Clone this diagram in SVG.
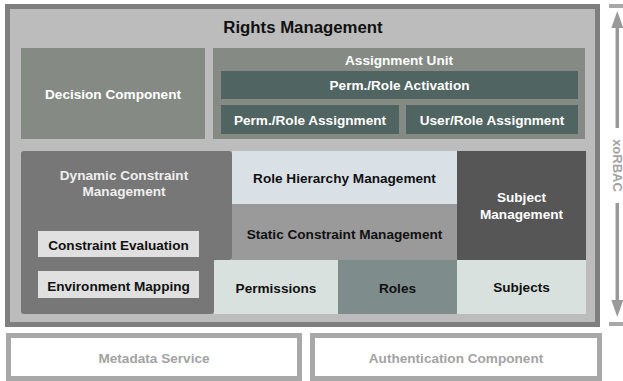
<svg xmlns="http://www.w3.org/2000/svg" width="623" height="381" viewBox="0 0 623 381">
<style>
text{font-family:"Liberation Sans",Arial,sans-serif;font-weight:bold;font-size:13.6px;text-anchor:middle}
.w{fill:#ffffff}
.b{fill:#111111}
.g{fill:#a3a3a3}
</style>
<rect x="0" y="0" width="623" height="381" fill="#ffffff"/>
<g id="rights-management">
<rect x="7.5" y="6.5" width="590" height="318" fill="#bcbcbc" stroke="#7f7f7f" stroke-width="5"/>
<text x="303" y="33" class="b" style="font-size:16.8px">Rights Management</text>
</g>
<g id="decision-component">
<rect x="21" y="48" width="184" height="91" fill="#858b84"/>
<text x="113" y="99" class="w">Decision Component</text>
</g>
<g id="assignment-unit">
<rect x="213" y="48" width="372" height="91" fill="#858b84"/>
<text x="399" y="65" class="w">Assignment Unit</text>
</g>
<g id="perm-role-activation">
<rect x="221" y="71" width="357" height="28" fill="#506461"/>
<text x="399.5" y="90" class="w">Perm./Role Activation</text>
</g>
<g id="perm-role-assignment">
<rect x="221" y="105" width="178" height="29" fill="#506461"/>
<text x="310" y="124.5" class="w">Perm./Role Assignment</text>
</g>
<g id="user-role-assignment">
<rect x="406" y="105" width="172" height="29" fill="#506461"/>
<text x="492" y="124.5" class="w">User/Role Assignment</text>
</g>
<g id="dynamic-constraint-management">
<path d="M24,151 H229 Q232,151 232,154 V257 Q232,260 229,260 H214 V311 Q214,314 211,314 H24 Q21,314 21,311 V154 Q21,151 24,151 Z" fill="#777777"/>
<text x="124" y="179.5" fill="#eeeeee">Dynamic Constraint</text>
<text x="124" y="196" fill="#eeeeee">Management</text>
</g>
<g id="constraint-evaluation">
<rect x="38" y="231" width="161" height="26" fill="#e0e0e0"/>
<text x="118.5" y="250" class="b">Constraint Evaluation</text>
</g>
<g id="environment-mapping">
<rect x="38" y="271" width="161" height="27" fill="#e0e0e0"/>
<text x="118.5" y="290.5" class="b">Environment Mapping</text>
</g>
<g id="role-hierarchy-management">
<rect x="232" y="151" width="225" height="53" fill="#d9e0e6"/>
<text x="344.5" y="182.5" class="b">Role Hierarchy Management</text>
</g>
<g id="static-constraint-management">
<rect x="232" y="204" width="225" height="56" fill="#9a9a9a"/>
<text x="344.5" y="239" class="b">Static Constraint Management</text>
</g>
<g id="subject-management">
<rect x="457" y="151" width="129" height="109" fill="#565656"/>
<text x="521.5" y="202" class="w">Subject</text>
<text x="521.5" y="218.5" class="w">Management</text>
</g>
<g id="permissions">
<path d="M216,260 H338 V314 H214 V262 Q214,260 216,260 Z" fill="#d9e1de"/>
<text x="276" y="293" class="b">Permissions</text>
</g>
<g id="roles">
<rect x="338" y="260" width="119" height="54" fill="#7f8c8c"/>
<text x="397.5" y="293" class="b">Roles</text>
</g>
<g id="subjects">
<rect x="457" y="260" width="129" height="54" fill="#d9e1de"/>
<text x="521.5" y="292" class="b">Subjects</text>
</g>
<g id="metadata-service">
<rect x="8.5" y="335.5" width="291" height="43" fill="#ffffff" stroke="#a8a8a8" stroke-width="5"/>
<text x="154" y="362.5" class="g">Metadata Service</text>
</g>
<g id="authentication-component">
<rect x="312.5" y="335.5" width="287" height="43" fill="#ffffff" stroke="#a8a8a8" stroke-width="5"/>
<text x="456" y="362.5" class="g">Authentication Component</text>
</g>
<g id="connectors">
<rect x="609" y="4" width="14" height="4" fill="#a8a8a8"/>
<line x1="617.3" y1="26" x2="617.3" y2="128" stroke="#999999" stroke-width="3.5"/>
<polygon points="617.3,11 611.3,28 623.3,28" fill="#999999"/>
<line x1="617.3" y1="203" x2="617.3" y2="302" stroke="#999999" stroke-width="3.5"/>
<polygon points="617.3,317 611.3,300 623.3,300" fill="#999999"/>
<rect x="609" y="322" width="14" height="4" fill="#a8a8a8"/>
<text transform="translate(612.5,165.5) rotate(90)" x="0" y="0" fill="#a3a3a3" style="font-size:13px">xoRBAC</text>
</g>
</svg>
